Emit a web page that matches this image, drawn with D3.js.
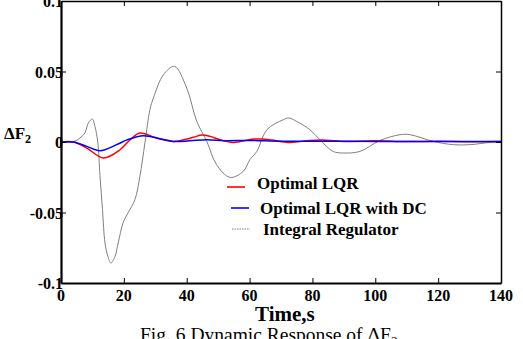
<!DOCTYPE html>
<html>
<head>
<meta charset="utf-8">
<script src="https://cdn.jsdelivr.net/npm/d3@7"></script>
<style>
  body { margin: 0; background: #fff; }
  svg { display: block; font-family: "Liberation Serif", "Times New Roman", serif; }
</style>
</head>
<body>
<div id="chart"></div>
<script>
// time axis ticks
var xTicks = [0, 20, 40, 60, 80, 100, 120, 140];
var yTicks = [-0.1, -0.05, 0, 0.05, 0.1];
var yTickLabels = ["-0.1", "-0.05", "0", "0.05", "0.1"];

// Integral Regulator (grey)
var tInt = [0, 4, 6, 7.6, 8.7, 9.96, 10.8, 11.7, 12.4, 13.2, 14.0, 14.9, 15.9, 17.2, 18.2, 19.8, 21.4, 23.5, 25.1, 26.7, 28.3, 29.4, 32.6, 36.1, 40, 43.2, 46.4, 49.5, 53.8, 58, 60.1, 62.3, 65.5, 70.7, 72.5, 75, 79.2, 82.4, 86.6, 89.8, 95.1, 101.5, 107.9, 111, 118.5, 124.8, 130.1, 136.5, 140];
var vInt = [0, 0.0002, 0.0028, 0.0064, 0.0135, 0.0163, 0.011, 0, -0.024, -0.048, -0.0716, -0.081, -0.0858, -0.081, -0.0716, -0.057, -0.050, -0.041, -0.0244, -0.0007, 0.023, 0.0312, 0.0477, 0.0536, 0.0383, 0.0146, 0.0004, -0.0161, -0.0251, -0.0208, -0.0125, -0.0067, 0.0087, 0.0158, 0.017, 0.0146, 0.0087, 0.0016, -0.0067, -0.0078, -0.0067, 0.0011, 0.0052, 0.0052, 0.0004, -0.0019, -0.0019, -0.0003, 0];

// Optimal LQR (red)
var tLqr = [0, 3.9, 8.2, 13.5, 18.8, 22, 25.1, 30.4, 35.7, 42.1, 44.8, 47.4, 50.6, 54.8, 61.2, 63.9, 67, 72.9, 79.2, 84.5, 90, 100, 110, 120, 130, 140];
var vLqr = [0, 0, -0.0043, -0.0113, -0.0055, 0.0016, 0.0064, 0.0028, 0.0004, 0.0033, 0.005, 0.004, 0.0016, -0.0003, 0.0021, 0.0021, 0.0014, -0.0003, 0.0011, 0.0013, 0.0004, 0.0008, 0.0003, 0.0005, 0.0002, 0.0004];

// Optimal LQR with DC (blue)
var tDc = [0, 3.9, 8.2, 12.4, 17.7, 21, 26.2, 31.5, 35.7, 41, 46.4, 52, 60, 70, 80, 100, 120, 140];
var vDc = [0, 0, -0.0031, -0.0062, -0.0019, 0.0015, 0.0045, 0.0023, 0.0004, 0.0008, 0.0016, 0.0009, 0.0011, 0.0005, 0.0006, 0.0004, 0.0004, 0.0003];

var legendNames = ["Optimal LQR", "Optimal LQR with DC", "Integral Regulator"];

var W = 523, H = 339;
var margin = {left: 61, top: 1, right: 22, bottom: 56};
var width = W - margin.left - margin.right;
var height = H - margin.top - margin.bottom;

var svg = d3.select("#chart").append("svg")
  .attr("width", W).attr("height", H);

var g = svg.append("g")
  .attr("transform", "translate(" + margin.left + "," + margin.top + ")");

var x = d3.scaleLinear().domain([0, 140]).range([0, width]);
var y = d3.scaleLinear().domain([-0.1, 0.1]).range([height, 0]);

var line = d3.line()
  .x(function(d) { return x(d[0]); })
  .y(function(d) { return y(d[1]); })
  .curve(d3.curveCatmullRom.alpha(0.5));

function zip(a, b) { return a.map(function(v, i) { return [v, b[i]]; }); }

g.append("path").datum(zip(tInt, vInt))
  .attr("d", line).attr("fill", "none")
  .attr("stroke", "#808080").attr("stroke-width", 1);

g.append("path").datum(zip(tLqr, vLqr))
  .attr("d", line).attr("fill", "none")
  .attr("stroke", "#ff0000").attr("stroke-width", 1.5);

g.append("path").datum(zip(tDc, vDc))
  .attr("d", line).attr("fill", "none")
  .attr("stroke", "#0000ff").attr("stroke-width", 1.5);

// frame with inward ticks on all sides
var bottomAxis = d3.axisBottom(x).tickValues(xTicks).tickSizeInner(-5).tickSizeOuter(0).tickFormat("");
var topAxis = d3.axisTop(x).tickValues(xTicks).tickSizeInner(-5).tickSizeOuter(0).tickFormat("");
var leftAxis = d3.axisLeft(y).tickValues(yTicks).tickSizeInner(-5).tickSizeOuter(0).tickFormat("");
var rightAxis = d3.axisRight(y).tickValues(yTicks).tickSizeInner(-5).tickSizeOuter(0).tickFormat("");

var ax = [
  g.append("g").attr("transform", "translate(0," + height + ")").call(bottomAxis),
  g.append("g").call(topAxis),
  g.append("g").call(leftAxis),
  g.append("g").attr("transform", "translate(" + width + ",0)").call(rightAxis)
];
ax.forEach(function(a, i) {
  a.selectAll("path").attr("stroke", "#000").attr("stroke-width", i == 0 || i == 2 ? 2.2 : 1.5);
  a.selectAll("line").attr("stroke", "#000").attr("stroke-width", 1);
});

// tick labels
g.selectAll(".xl").data(xTicks).enter().append("text")
  .attr("x", function(d) { return x(d); })
  .attr("y", height + 18)
  .attr("text-anchor", "middle")
  .attr("font-size", 16).attr("font-weight", "bold")
  .text(function(d) { return d; });

g.selectAll(".yl").data(yTicks).enter().append("text")
  .attr("x", 2)
  .attr("y", function(d) { return y(d) + 6; })
  .attr("text-anchor", "end")
  .attr("font-size", 16).attr("font-weight", "bold")
  .text(function(d, i) { return yTickLabels[i]; });

// axis titles
var yt = svg.append("text").attr("x", 4).attr("y", 139)
  .attr("font-size", 17).attr("font-weight", "bold");
yt.append("tspan").text("\u0394F");
yt.append("tspan").attr("font-size", 12).attr("dy", 4).text("2");

svg.append("text").attr("x", 255).attr("y", 321)
  .attr("font-size", 21).attr("font-weight", "bold")
  .text("Time,s");

var cap = svg.append("text").attr("x", 140).attr("y", 341)
  .attr("font-size", 19.5);
cap.append("tspan").text("Fig. 6 Dynamic Response of \u0394F");
cap.append("tspan").attr("font-size", 13).attr("dy", 4).text("2");

// legend
var legendColors = ["#ff0000", "#0000ff", "#808080"];
var legendLineX = [227, 231, 232];
var legendLineY = [187, 208, 229];
var legendTextX = [257, 260, 263];
var legendTextY = [188.5, 214, 235];

legendNames.forEach(function(name, i) {
  svg.append("line")
    .attr("x1", legendLineX[i]).attr("x2", legendLineX[i] + 18)
    .attr("y1", legendLineY[i]).attr("y2", legendLineY[i])
    .style("stroke", legendColors[i]).attr("stroke-width", i == 2 ? 1 : 1.6)
    .attr("stroke-dasharray", i == 2 ? "1.5,1" : null);
  svg.append("text")
    .attr("x", legendTextX[i]).attr("y", legendTextY[i])
    .attr("font-size", 17).attr("font-weight", "bold")
    .text(name);
});
</script>
</body>
</html>
